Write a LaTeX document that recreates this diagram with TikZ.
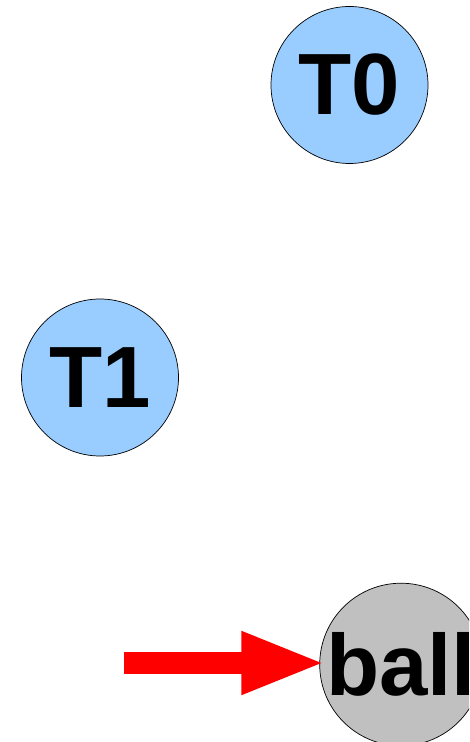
\documentclass[tikz,border=0pt]{standalone}
\usepackage{fontspec}
\setmainfont{Liberation Sans}
\usetikzlibrary{arrows.meta}
\definecolor{tblue}{HTML}{99CCFF}
\definecolor{bgray}{HTML}{C0C0C0}
\begin{document}
\begin{tikzpicture}[x=1pt,y=1pt,
  token/.style={circle,draw=black,line width=0.7pt,minimum size=157pt,inner sep=0pt,
    font=\fontsize{87}{87}\selectfont\bfseries},
  tnode/.style={token,fill=tblue},
  bnode/.style={token,fill=bgray},
  pointer/.style={draw=red,line width=22pt,-{Triangle[length=85pt,width=57pt]}}]
\useasboundingbox (0,0) rectangle (469,742);
\clip (0,0) rectangle (469,742);
\node[tnode] (T0) at (349.5,657) {T0};
\node[tnode] (T1) at (100,364.5) {T1};
\node[bnode] (ball) at (401,77.5) {ball};
\coordinate (start) at (124,79);
\draw[pointer,shorten >=-7pt] (start) -- (ball.west |- start);
\end{tikzpicture}
\end{document}
